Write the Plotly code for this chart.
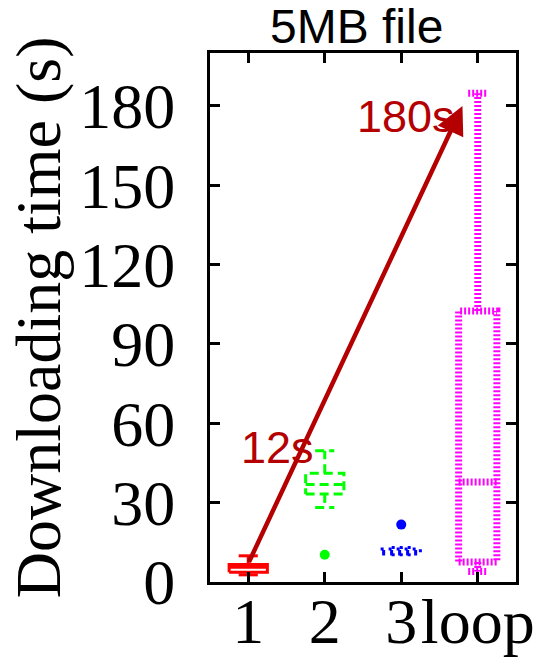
import plotly.graph_objects as go

# ---- data ----
categories = ["1", "2", "3", "loop"]
positions = [1, 2, 3, 4]
lower_whisker = [2.7, 28.2, 10.3, 4.0]
q1 = [3.7, 33.3, 10.6, 7.6]
median = [5.6, 36.9, 11.5, 37.8]
q3 = [6.6, 41.1, 12.5, 102.5]
upper_whisker = [9.9, 49.6, 13.0, 184.8]
outliers = [[], [10.3], [21.7], []]
arrow_start = (1, 7)
arrow_end = (3.8, 180)
label_12s = (1.38, 51)
label_180s = (3.06, 176)
y_ticks = [0, 30, 60, 90, 120, 150, 180]

colors = ["#ff0000", "#00ff00", "#0000ff", "#ff00ff"]
dashes = ["solid", "9px,5px", "3px,5px", "2px,2px"]
widths = [3, 3, 3, 7]
box_w = 0.5
cap_w = 0.25
dark_red = "#b40000"

fig = go.Figure()
for i, p in enumerate(positions):
    l, r = p - box_w / 2, p + box_w / 2
    cl, cr = p - cap_w / 2, p + cap_w / 2
    xs = [l, r, r, l, l, None, l, r, None, p, p, None, p, p, None, cl, cr, None, cl, cr]
    ys = [q1[i], q1[i], q3[i], q3[i], q1[i], None, median[i], median[i], None,
          q3[i], upper_whisker[i], None, q1[i], lower_whisker[i], None,
          upper_whisker[i], upper_whisker[i], None, lower_whisker[i], lower_whisker[i]]
    fig.add_trace(go.Scatter(x=xs, y=ys, mode="lines",
                             line=dict(color=colors[i], width=widths[i], dash=dashes[i]),
                             showlegend=False, hoverinfo="skip"))
    if outliers[i]:
        fig.add_trace(go.Scatter(x=[p] * len(outliers[i]), y=outliers[i], mode="markers",
                                 marker=dict(color=colors[i], size=10),
                                 showlegend=False))

serif = "Liberation Serif, Times New Roman, serif"
sans = "Liberation Sans, Arial, sans-serif"

fig.add_annotation(x=arrow_end[0], y=arrow_end[1], ax=arrow_start[0], ay=arrow_start[1],
                   xref="x", yref="y", axref="x", ayref="y", text="", showarrow=True,
                   arrowhead=2, arrowsize=1.25, arrowwidth=4.5, arrowcolor=dark_red)
fig.add_annotation(x=label_12s[0], y=label_12s[1], xref="x", yref="y", text="12s",
                   showarrow=False, font=dict(family=sans, size=45, color=dark_red))
fig.add_annotation(x=label_180s[0], y=label_180s[1], xref="x", yref="y", text="180s",
                   showarrow=False, font=dict(family=sans, size=45, color=dark_red))
fig.add_annotation(x=0.479, y=1, xref="paper", yref="paper", yanchor="bottom", yshift=-2,
                   text="5MB file", showarrow=False,
                   font=dict(family=sans, size=48, color="black"))
fig.add_annotation(x=-0.56, y=0.5, xref="paper", yref="paper", textangle=-90,
                   xanchor="center", yanchor="middle",
                   text="Downloading time (s)", showarrow=False,
                   font=dict(family=serif, size=64, color="black"))

fig.update_xaxes(range=[0.5, 4.5], tickvals=positions, ticktext=categories,
                 ticks="inside", ticklen=10, tickwidth=3, tickcolor="black",
                 showline=True, linewidth=3, linecolor="black", mirror="ticks",
                 showgrid=False, zeroline=False, ticklabelstandoff=-19,
                 tickfont=dict(family=serif, size=64, color="black"))
fig.update_yaxes(range=[0, 200], tickvals=y_ticks,
                 ticks="inside", ticklen=10, tickwidth=3, tickcolor="black",
                 showline=True, linewidth=3, linecolor="black", mirror="ticks",
                 showgrid=False, zeroline=False, ticklabelstandoff=19,
                 tickfont=dict(family=serif, size=64, color="black"))
fig.update_layout(width=541, height=657, margin=dict(l=202, r=33, t=45, b=83, autoexpand=False),
                  plot_bgcolor="white", paper_bgcolor="white")
fig.write_html("out.html")
